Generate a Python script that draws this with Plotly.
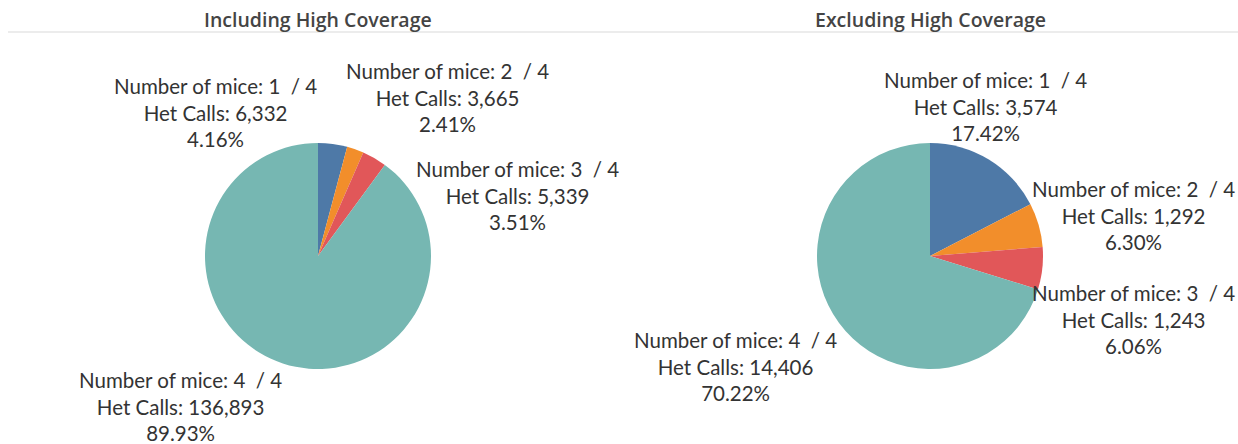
import plotly.graph_objects as go

W, H = 1238, 444

categories = ["1", "2", "3", "4"]
incl_values = [6332, 3665, 5339, 136893]
excl_values = [3574, 1292, 1243, 14406]
titles = ["Including High Coverage", "Excluding High Coverage"]
colors = ["#4e79a7", "#f28e2b", "#e15759", "#76b7b2"]

# layout (pixel positions of pies and label blocks)
pie_centers = [(318, 256), (930, 256)]
radius = 113
label_pos = [
    [(215, 113), (447, 98), (517, 195), (180, 406)],
    [(986, 106), (1133, 215), (1133, 319), (735, 366)],
]

TEXT_FONT = dict(family="Lato, 'Open Sans', sans-serif", size=20.5, color="#333333")


def px_x(x):
    return x / W


def px_y(y):
    return 1 - y / H


fig = go.Figure()
annotations = []
for i, vals in enumerate([incl_values, excl_values]):
    cx, cy = pie_centers[i]
    fig.add_trace(go.Pie(
        labels=[f"Number of mice: {c} / 4" for c in categories],
        values=vals,
        sort=False,
        direction="clockwise",
        rotation=0,
        textinfo="none",
        hoverinfo="label+value+percent",
        marker=dict(colors=colors, line=dict(width=0)),
        domain=dict(x=[px_x(cx - radius), px_x(cx + radius)],
                    y=[px_y(cy + radius), px_y(cy - radius)]),
        showlegend=False,
    ))
    total = sum(vals)
    for j, (c, v) in enumerate(zip(categories, vals)):
        lx, ly = label_pos[i][j]
        txt = (f"Number of mice: {c} \u00a0/ 4<br>Het Calls: {v:,}<br>"
               f"{v / total * 100:.2f}%")
        annotations.append(dict(
            text=txt, x=px_x(lx), y=px_y(ly), xref="paper", yref="paper",
            xanchor="center", yanchor="middle", showarrow=False,
            align="center", font=TEXT_FONT,
        ))
    annotations.append(dict(
        text=titles[i], x=px_x(cx), y=px_y(19), xref="paper", yref="paper",
        xanchor="center", yanchor="middle", showarrow=False,
        font=dict(family="'Open Sans', sans-serif", size=19.5, color="#444444",
                  weight=600),
    ))

fig.update_layout(
    width=W, height=H,
    margin=dict(l=0, r=0, t=0, b=0),
    paper_bgcolor="white",
    plot_bgcolor="white",
    annotations=annotations,
    shapes=[dict(type="line", xref="paper", yref="paper",
                 x0=px_x(8), x1=1, y0=px_y(32), y1=px_y(32),
                 line=dict(color="#d9d9d9", width=1))],
)

fig.write_html(
    "out.html",
    config={"displayModeBar": False},
    post_script="document.body.style.margin='0';document.body.style.overflow='hidden';",
)
